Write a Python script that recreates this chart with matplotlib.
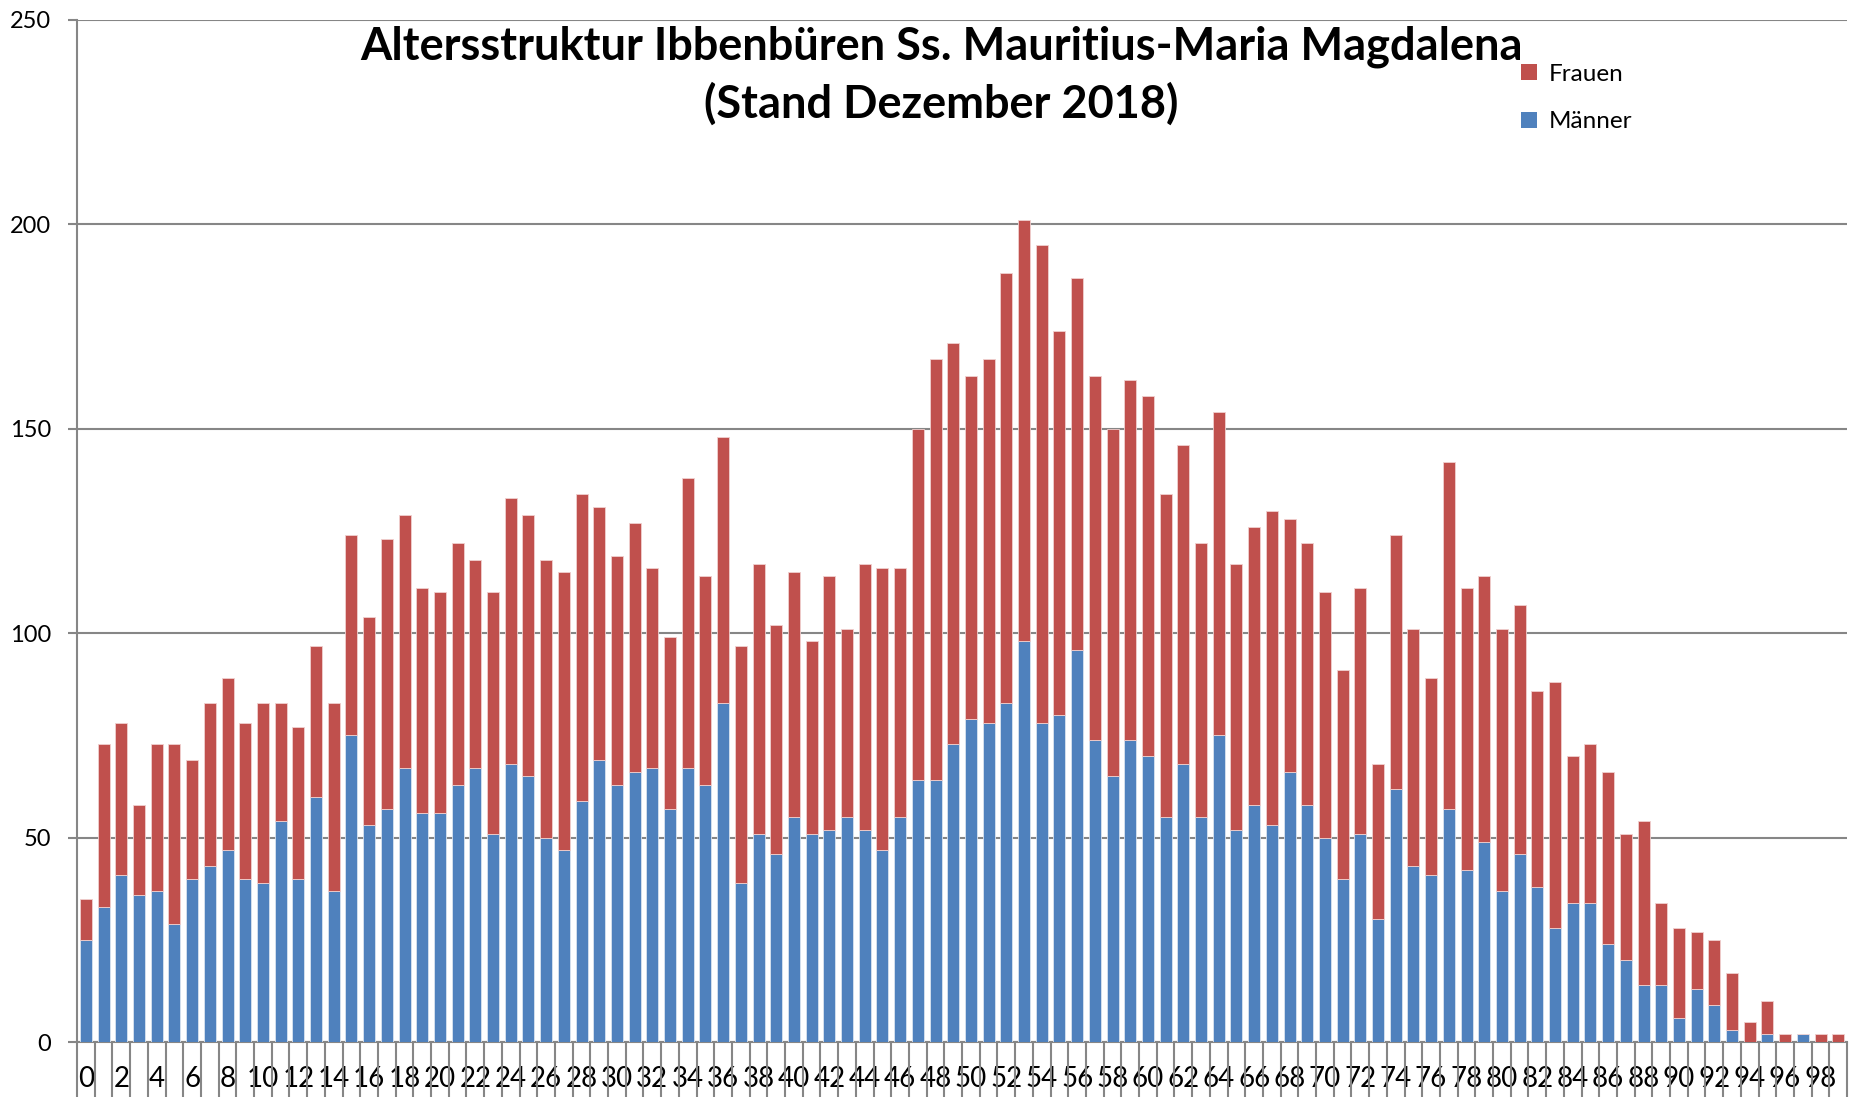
import numpy as np
import matplotlib.pyplot as plt
from matplotlib.patches import Patch

plt.rcParams['font.family'] = ['Lato', 'DejaVu Sans']

ages = list(range(100))
maenner = [25, 33, 41, 36, 37, 29, 40, 43, 47, 40,
           39, 54, 40, 60, 37, 75, 53, 57, 67, 56,
           56, 63, 67, 51, 68, 65, 50, 47, 59, 69,
           63, 66, 67, 57, 67, 63, 83, 39, 51, 46,
           55, 51, 52, 55, 52, 47, 55, 64, 64, 73,
           79, 78, 83, 98, 78, 80, 96, 74, 65, 74,
           70, 55, 68, 55, 75, 52, 58, 53, 66, 58,
           50, 40, 51, 30, 62, 43, 41, 57, 42, 49,
           37, 46, 38, 28, 34, 34, 24, 20, 14, 14,
           6, 13, 9, 3, 0, 2, 0, 2, 0, 0]
gesamt = [35, 73, 78, 58, 73, 73, 69, 83, 89, 78,
          83, 83, 77, 97, 83, 124, 104, 123, 129, 111,
          110, 122, 118, 110, 133, 129, 118, 115, 134, 131,
          119, 127, 116, 99, 138, 114, 148, 97, 117, 102,
          115, 98, 114, 101, 117, 116, 116, 150, 167, 171,
          163, 167, 188, 201, 195, 174, 187, 163, 150, 162,
          158, 134, 146, 122, 154, 117, 126, 130, 128, 122,
          110, 91, 111, 68, 124, 101, 89, 142, 111, 114,
          101, 107, 86, 88, 70, 73, 66, 51, 54, 34,
          28, 27, 25, 17, 5, 10, 2, 2, 2, 2]
frauen = [g - m for g, m in zip(gesamt, maenner)]

blue = '#4F81BD'
red = '#C0504D'
grey = '#868686'

fig = plt.figure(figsize=(18.53, 10.97), dpi=100)
ax = fig.add_axes([0.0416, 0.050, 0.9552, 0.9318])

ax.bar(ages, maenner, width=0.68, color=blue, edgecolor='#D9E3F0', linewidth=0.6, zorder=3)
ax.bar(ages, frauen, bottom=maenner, width=0.68, color=red, edgecolor='#F0D0CF', linewidth=0.6, zorder=3)

ax.set_xlim(-0.5, 99.5)
ax.set_ylim(0, 250)
ax.set_yticks(np.arange(0, 251, 50))
ax.yaxis.grid(True, color=grey, linewidth=1.5, zorder=0)

# Excel-like category ticks: long marks between categories, labels every 2nd age
ax.set_xticks(ages[::2])
ax.set_xticklabels([str(a) for a in ages[::2]])
ax.set_xticks(np.arange(-0.5, 100, 1), minor=True)
ax.tick_params(axis='x', which='major', length=0, pad=17, labelsize=20)
ax.tick_params(axis='x', which='minor', length=40, width=1.5, color=grey)
ax.tick_params(axis='y', length=6.5, width=1.5, color=grey, pad=12, labelsize=17)

for s in ['top', 'right']:
    ax.spines[s].set_visible(False)
for s in ['left', 'bottom']:
    ax.spines[s].set_color(grey)
    ax.spines[s].set_linewidth(1.5)

fig.text(0.508, 0.931, 'Altersstruktur Ibbenbüren Ss. Mauritius-Maria Magdalena\n(Stand Dezember 2018)',
         ha='center', va='center', fontsize=32.5, fontweight='bold', linespacing=1.4)

handles = [Patch(facecolor=red, label='Frauen'), Patch(facecolor=blue, label='Männer')]
fig.legend(handles=handles, loc='upper left', bbox_to_anchor=(0.809, 0.962), frameon=False,
           fontsize=17.5, handlelength=0.65, handleheight=0.65, handletextpad=0.5, labelspacing=1.1)

fig.savefig('out.png', dpi=100)
